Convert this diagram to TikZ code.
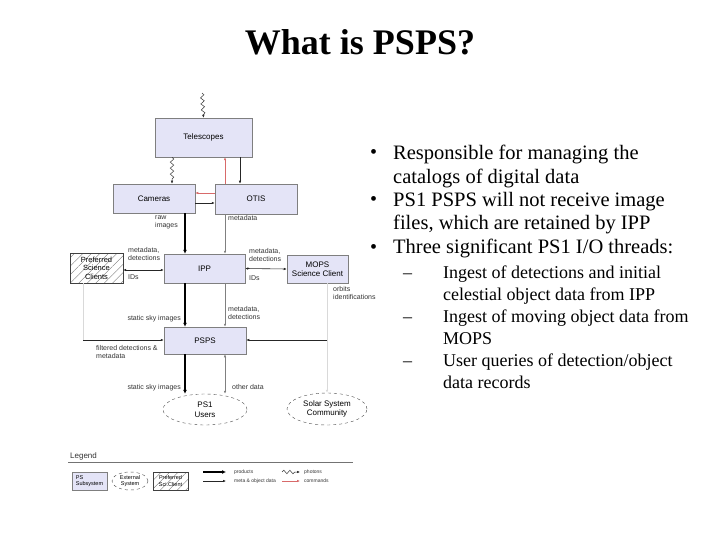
\documentclass[tikz,border=0pt]{standalone}
\usepackage{fontspec}
\setmainfont{Liberation Serif}
\setsansfont{Liberation Sans}
\usetikzlibrary{arrows.meta, positioning, shapes.geometric, patterns.meta,
                decorations.pathmorphing}
\definecolor{lavanda}{HTML}{E4E4F7}
\definecolor{grisBorde}{HTML}{7F7F7F}
\definecolor{rojoComando}{HTML}{D86A6A}
\colorlet{colLinea}{black!85}
\colorlet{colGrisLinea}{black!50}
\colorlet{colTenue}{black!15}
\colorlet{colEtiqueta}{black!80}
\tikzset{
  cajaBase/.style={
    draw=grisBorde, line width=0.5pt, fill=lavanda, inner sep=0pt,
    align=center, font=\sffamily\fontsize{8}{9.5}\selectfont
  },
  cajaCliente/.style={cajaBase, draw=black!75,
    pattern={Lines[angle=45, distance=6pt, line width=0.35pt]}, pattern color=black!55},
  elipseExterna/.style={ellipse, draw=black!70, dashed, inner sep=0pt,
    align=center, font=\sffamily\fontsize{8}{9.5}\selectfont},
  flechaProducto/.style={-{Latex[length=4pt, width=4pt]}, line width=1.6pt, black},
  flechaDatos/.style={-{Latex[length=3pt, width=2.6pt]}, line width=0.6pt, colLinea},
  flechaDoble/.style={{Latex[length=3pt, width=2.6pt]}-{Latex[length=3pt, width=2.6pt]},
    line width=0.6pt, colLinea},
  flechaGris/.style={flechaDatos, colGrisLinea},
  flechaGrisDoble/.style={flechaDoble, colGrisLinea},
  flechaComando/.style={flechaDatos, line width=0.7pt, rojoComando},
  flechaTenue/.style={flechaDatos, colTenue},
  lineaTenue/.style={line width=0.6pt, colTenue},
  flechaFoton/.style={-{Latex[length=3pt, width=2.6pt]}, line width=0.5pt, black!80,
    decorate, decoration={snake, amplitude=1.8pt, segment length=6pt, post length=3pt}},
  etiqueta/.style={font=\sffamily\fontsize{7}{8}\selectfont, text=colEtiqueta,
    inner sep=0pt, align=left},
  etiquetaLeyenda/.style={etiqueta, font=\sffamily\fontsize{5}{6}\selectfont},
  vineta/.style={font=\fontsize{20.5}{23.5}\selectfont, inner sep=0pt, align=left,
    anchor=north west},
  subVineta/.style={font=\fontsize{18}{22}\selectfont, inner sep=0pt, align=left,
    anchor=north west},
  marca/.style={font=\fontsize{20}{23.5}\selectfont, inner sep=0pt, anchor=base west},
}

\begin{document}
\begin{tikzpicture}[x=1pt, y=-1pt]
  \useasboundingbox (0,0) rectangle (720,540);

  % title
  \node[font=\bfseries\fontsize{36}{40}\selectfont, inner sep=0pt, anchor=base]
    (titulo) at (360,55) {What is PSPS?};

  % boxes of the data flow
  \node[cajaBase, minimum width=97pt, minimum height=39pt] (tel) at (203.5,137.5) {Telescopes};
  \node[cajaBase, minimum width=82pt, minimum height=29pt] (cam) at (154,198.5) {Cameras};
  \node[cajaBase, minimum width=82pt, minimum height=30pt] (otis) at (256,199) {OTIS};
  \node[cajaBase, minimum width=81pt, minimum height=29pt] (ipp) at (204.5,268.5) {IPP};
  \node[cajaCliente, minimum width=53pt, minimum height=30pt,
        font=\sffamily\fontsize{7.5}{8.5}\selectfont] (pref) at (96.5,268) {Preferred\\Science\\Clients};
  \node[cajaBase, minimum width=61pt, minimum height=28pt] (mops) at (317.5,269) {MOPS\\Science Client};
  \node[cajaBase, minimum width=82pt, minimum height=27pt] (psps) at (205,340.5) {PSPS};
  \node[elipseExterna, minimum width=84pt, minimum height=31pt] (users) at (205,409.5) {PS1\\Users};
  \node[elipseExterna, minimum width=80pt, minimum height=32pt] (ssc) at (327,409) {Solar System\\Community};

  % columns and rows of the connectors
  \coordinate (fotonArriba) at (202,93);
  \coordinate (xFoton) at (172,0);
  \coordinate (xRojo) at (225,0);
  \coordinate (xOtis) at (240,0);
  \coordinate (xGruesa) at (185,0);
  \coordinate (xGris) at (225,0);
  \coordinate (xIzq) at (83,0);
  \coordinate (xMops) at (327,0);
  \coordinate (yCom) at (0,193);
  \coordinate (yDat) at (0,203);
  \coordinate (yPref) at (0,270);
  \coordinate (yFiltro) at (0,340);

  \draw[flechaFoton] (fotonArriba) -- (tel.north);
  \draw[flechaFoton] (tel.south -| xFoton) -- (cam.north -| xFoton);
  \draw[flechaComando] (otis.north -| xRojo) -- (tel.south -| xRojo);
  \draw[flechaDatos] (tel.south -| xOtis) -- (otis.north -| xOtis);
  \draw[flechaComando] (otis.west |- yCom) -- (cam.east |- yCom);
  \draw[flechaDatos] (cam.east |- yDat) -- (otis.west |- yDat);
  \draw[flechaProducto] (cam.south -| xGruesa) -- (ipp.north -| xGruesa);
  \draw[flechaGris] (otis.south -| xGris) -- (ipp.north -| xGris);
  \draw[flechaDoble] (pref.east |- yPref) -- (ipp.west |- yPref);
  \draw[flechaDoble] (ipp.east) -- (mops.west);
  \draw[flechaProducto] (ipp.south -| xGruesa) -- (psps.north -| xGruesa);
  \draw[flechaGris] (ipp.south -| xGris) -- (psps.north -| xGris);
  \draw[lineaTenue] (pref.south -| xIzq) -- (xIzq |- yFiltro);
  \draw[flechaDatos] (xIzq |- yFiltro) -- (psps.west |- yFiltro);
  \draw[flechaTenue] (mops.south -| xMops) -- (ssc.north);
  \draw[flechaDatos] (xMops |- yFiltro) -- (psps.east |- yFiltro);
  \draw[flechaProducto] (psps.south -| xGruesa) -- (users.north -| xGruesa);
  \draw[flechaGrisDoble] (psps.south -| xGris) -- (users.north -| xGris);

  % connector labels
  \node[etiqueta, anchor=north west] (lbRaw) at (155,216) {raw\\images};
  \node[etiqueta, anchor=north west] (lbMeta) at (228,215) {metadata};
  \node[etiqueta, anchor=north west] (lbPrefArr) at (128,247) {metadata,\\detections};
  \node[etiqueta, anchor=north west] (lbPrefIds) at (128,274) {IDs};
  \node[etiqueta, anchor=north west] (lbMopsArr) at (249,248) {metadata,\\detections};
  \node[etiqueta, anchor=north west] (lbMopsIds) at (249,275) {IDs};
  \node[etiqueta, anchor=north west] (lbOrbitas) at (333,286) {orbits\\identifications};
  \node[etiqueta, anchor=north east] (lbSky1) at (181,315) {static sky images};
  \node[etiqueta, anchor=north west] (lbMeta2) at (228,306) {metadata,\\detections};
  \node[etiqueta, anchor=north west] (lbFiltro) at (96,345) {filtered detections \&\\metadata};
  \node[etiqueta, anchor=north east] (lbSky2) at (181,384) {static sky images};
  \node[etiqueta, anchor=north west] (lbOtros) at (232,384) {other data};

  % legend
  \draw[black!55, line width=0.6pt] (68,462) -- (353,462);
  \node[etiqueta, font=\sffamily\fontsize{8}{9}\selectfont, anchor=base west] (leyenda) at (70,458) {Legend};
  \node[cajaBase, minimum width=35pt, minimum height=18pt,
        font=\sffamily\fontsize{5.5}{6.5}\selectfont, align=left] (lgSub) at (89.5,481) {PS\\Subsystem};
  \node[elipseExterna, minimum width=36pt, minimum height=18pt,
        font=\sffamily\fontsize{5.5}{6.5}\selectfont] (lgExt) at (130,481) {External\\System};
  \node[cajaCliente, minimum width=35pt, minimum height=18pt,
        font=\sffamily\fontsize{5.5}{6.5}\selectfont] (lgPref) at (170.5,481) {Preferred\\Sci.Client};
  \coordinate (lgA1) at (203,472);
  \coordinate (lgA2) at (226,472);
  \coordinate (lgB1) at (203,481);
  \coordinate (lgB2) at (226,481);
  \coordinate (lgC1) at (282,472);
  \coordinate (lgC2) at (300,472);
  \coordinate (lgD1) at (282,481);
  \coordinate (lgD2) at (300,481);
  \draw[flechaProducto] (lgA1) -- (lgA2);
  \draw[flechaDatos] (lgB1) -- (lgB2);
  \draw[flechaFoton] (lgC1) -- (lgC2);
  \draw[flechaComando] (lgD1) -- (lgD2);
  \node[etiquetaLeyenda, anchor=west] (lgProd) at (234,472) {products};
  \node[etiquetaLeyenda, anchor=west] (lgMeta) at (234,481) {meta \& object data};
  \node[etiquetaLeyenda, anchor=west] (lgFoton) at (304,472) {photons};
  \node[etiquetaLeyenda, anchor=west] (lgCom) at (304,481) {commands};

  % bullet text
  \node[marca] (m1) at (370,159) {\textbullet};
  \node[vineta] (v1) at (393,145) {Responsible for managing the\\catalogs of digital data};
  \node[marca] (m2) at (370,206) {\textbullet};
  \node[vineta] (v2) at (393,192) {PS1 PSPS will not receive image\\files, which are retained by IPP};
  \node[marca] (m3) at (370,253) {\textbullet};
  \node[vineta] (v3) at (393,239) {Three significant PS1 I/O threads:};
  \node[marca, font=\fontsize{18}{22}\selectfont] (s1m) at (403,278) {--};
  \node[subVineta] (s1) at (443,265.5) {Ingest of detections and initial\\celestial object data from IPP};
  \node[marca, font=\fontsize{18}{22}\selectfont] (s2m) at (403,322) {--};
  \node[subVineta] (s2) at (443,309.5) {Ingest of moving object data from\\MOPS};
  \node[marca, font=\fontsize{18}{22}\selectfont] (s3m) at (403,366) {--};
  \node[subVineta] (s3) at (443,353.5) {User queries of detection/object\\data records};
\end{tikzpicture}
\end{document}
